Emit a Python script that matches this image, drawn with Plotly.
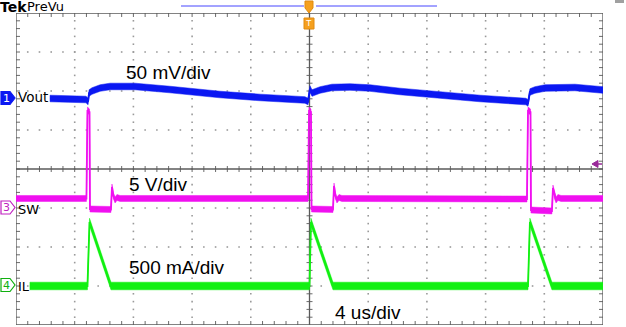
import plotly.graph_objects as go

# ---------------- screen geometry (page pixels) ----------------
W, H = 626, 327
GL, GR, GT, GB = 16, 603, 13, 325          # graticule edges
X_RANGE = (-20.0, 20.0)                     # us, 4 us/div x 10 div
Y_RANGE = (-4.0, 4.0)                       # divisions, 8 div

# ---------------- channel data ----------------
# Ch1  Vout  (50 mV/div, ground marker at +1.8 div)
VOUT_SCALE, VOUT_POS = 50.0, 1.8
vout_t = [-17.68, -15.23, -15.09, -15.02, -14.82, -14.27, -13.59, -11.89, -9.51,
          -6.10, -3.37, -0.31, -0.10, 0.03, 0.17, 0.72, 1.53, 2.76, 4.12, 6.17,
          8.89, 11.62, 14.75, 14.89, 15.02, 15.36, 16.04, 18.09, 20.0]
vout_mv = [0.4, -0.9, -3.5, 7.4, 10.0, 13.8, 15.8, 15.8, 11.9,
           5.5, 1.7, -1.5, -3.5, 12.6, 7.4, 11.3, 14.5, 15.1, 13.8, 9.4,
           4.9, 0.4, -3.5, -5.4, 8.7, 11.3, 13.8, 14.5, 11.3]

# Ch3  SW  (5 V/div, ground marker at -1 div)
SW_SCALE, SW_POS = 5.0, -1.0
sw_t = [-20.0, -15.20, -15.13, -14.99, -14.96, -13.53, -13.46, -13.36, -13.25, -13.12,
        -12.91, -0.10, -0.03, 0.10, 0.14, 1.60, 1.67, 1.77, 1.87, 2.01,
        2.21, 14.82, 14.89, 15.06, 15.09, 16.52, 16.59, 16.70, 16.80, 16.93,
        17.14, 20.0]
sw_v = [1.22, 1.22, 12.56, 12.31, -0.13, -0.19, 2.69, 1.54, 1.03, 1.35,
        1.22, 1.22, 12.56, 12.31, -0.13, -0.19, 2.82, 1.54, 1.03, 1.35,
        1.22, 1.15, 12.56, 12.31, -0.26, -0.38, 2.56, 1.54, 1.03, 1.35,
        1.22, 1.22]

# Ch4  IL  (500 mA/div, ground marker at -3 div)
IL_SCALE, IL_POS = 500.0, -3.0
il_t = [-19.05, -15.13, -14.99, -13.53, 0.0, 0.10, 1.60, 14.89, 15.02, 16.52, 20.0]
il_ma = [0, 0, 820, 0, 0, 820, 0, 0, 820, 0, 0]

BLUE, MAGENTA, GREEN = "#0b18f2", "#f010f0", "#12f012"
GRID, DOT = "#6a6a6a", "#9a9a9a"
FONT = "Liberation Sans, Arial, sans-serif"
SCOPE_FONT = "DejaVu Sans, sans-serif"


def to_div(vals, scale, pos):
    return [pos + v / scale for v in vals]


def band_trace(t, y, half, color):
    """Noise envelope of a trace as a filled polygon (half-height in div)."""
    xs = list(t) + list(reversed(t)) + [t[0]]
    ys = [v + half for v in y] + [v - half for v in reversed(y)] + [y[0] + half]
    return go.Scatter(x=xs, y=ys, mode="lines", fill="toself", fillcolor=color,
                      line=dict(color=color, width=0.5), hoverinfo="skip",
                      showlegend=False)


def line_trace(t, y, color, width=1.8):
    return go.Scatter(x=t, y=y, mode="lines", line=dict(color=color, width=width),
                      hoverinfo="skip", showlegend=False)


fig = go.Figure()

# ---------------- graticule ----------------
px_x = (X_RANGE[1] - X_RANGE[0]) / (GR - GL)      # us per pixel
px_y = (Y_RANGE[1] - Y_RANGE[0]) / (GB - GT)      # div per pixel
minor_x = [X_RANGE[0] + 0.8 * k for k in range(1, 50)]
minor_y = [Y_RANGE[0] + 0.2 * k for k in range(1, 40)]

dot_x, dot_y = [], []
for gy in (-3, -2, -1, 1, 2, 3):
    dot_x += minor_x
    dot_y += [gy] * len(minor_x)
for gx in (-16, -12, -8, -4, 4, 8, 12, 16):
    dot_x += [gx] * len(minor_y)
    dot_y += minor_y
fig.add_trace(go.Scatter(x=dot_x, y=dot_y, mode="markers",
                         marker=dict(symbol="square", size=1.6, color=DOT, line=dict(width=0)),
                         hoverinfo="skip", showlegend=False))

tick_x, tick_y = [], []
tl_y, tl_x = 4 * px_y, 4 * px_x
for x in minor_x:
    tick_x += [x, x, None, x, x, None, x, x, None]
    tick_y += [Y_RANGE[1], Y_RANGE[1] - tl_y, None,
               Y_RANGE[0], Y_RANGE[0] + tl_y, None,
               -3 * px_y, 3 * px_y, None]
for y in minor_y:
    tick_y += [y, y, None, y, y, None, y, y, None]
    tick_x += [X_RANGE[0], X_RANGE[0] + tl_x, None,
               X_RANGE[1], X_RANGE[1] - tl_x, None,
               -3 * px_x, 3 * px_x, None]
fig.add_trace(go.Scatter(x=tick_x, y=tick_y, mode="lines",
                         line=dict(color=GRID, width=1), hoverinfo="skip", showlegend=False))

# border and centre cross
fig.add_trace(go.Scatter(
    x=[X_RANGE[0], X_RANGE[1], X_RANGE[1], X_RANGE[0], X_RANGE[0], None, X_RANGE[0], X_RANGE[1], None, 0, 0],
    y=[Y_RANGE[0], Y_RANGE[0], Y_RANGE[1], Y_RANGE[1], Y_RANGE[0], None, 0, 0, None, Y_RANGE[0], Y_RANGE[1]],
    mode="lines", line=dict(color="#5a5a5a", width=1.3), hoverinfo="skip", showlegend=False))

# ---------------- waveforms ----------------
vout_y = to_div(vout_mv, VOUT_SCALE, VOUT_POS)
sw_y = to_div(sw_v, SW_SCALE, SW_POS)
il_y = to_div(il_ma, IL_SCALE, IL_POS)

fig.add_trace(band_trace(vout_t, vout_y, 3.3 * px_y, BLUE))
fig.add_trace(line_trace(vout_t, vout_y, BLUE))
fig.add_trace(band_trace(sw_t, sw_y, 3.0 * px_y, MAGENTA))
fig.add_trace(line_trace(sw_t, sw_y, MAGENTA))
fig.add_trace(band_trace(il_t, il_y, 3.8 * px_y, GREEN))
fig.add_trace(line_trace(il_t, il_y, GREEN))


# ---------------- screen furniture ----------------
def PX(x):
    return (x - GL) / (GR - GL)


def PY(y):
    return (GB - y) / (GB - GT)


def path(points):
    return "M " + " L ".join(f"{PX(a):.5f},{PY(b):.5f}" for a, b in points) + " Z"


shapes = []
annotations = []


def channel_marker(yc, label, color, filled):
    pts = [(1, yc - 6.5), (10, yc - 6.5), (15, yc), (10, yc + 6.5), (1, yc + 6.5)]
    shapes.append(dict(type="path", xref="paper", yref="paper", path=path(pts),
                       fillcolor=color if filled else "white",
                       line=dict(color=color, width=1.2)))
    annotations.append(dict(text=label, x=PX(6.5), y=PY(yc), xref="paper", yref="paper",
                            showarrow=False, xanchor="center", yanchor="middle",
                            font=dict(family=SCOPE_FONT, size=11,
                                      color="white" if filled else color)))


channel_marker(98, "1", BLUE, True)
channel_marker(207.5, "3", "#c020c0", False)
channel_marker(285, "4", "#10b010", False)

# trigger level arrow (right edge)
shapes.append(dict(type="path", xref="paper", yref="paper",
                   path=path([(592, 164), (598, 160.5), (598, 167.5)]),
                   fillcolor="#9a2a9a", line=dict(color="#9a2a9a", width=1)))
shapes.append(dict(type="line", xref="paper", yref="paper",
                   x0=PX(597), x1=PX(602), y0=PY(164), y1=PY(164),
                   line=dict(color="#9a2a9a", width=1.5)))

# record view bar and trigger position marker (top)
for a, b in ((181, 304), (316, 437)):
    shapes.append(dict(type="line", xref="paper", yref="paper",
                       x0=PX(a), x1=PX(b), y0=PY(6), y1=PY(6),
                       line=dict(color="#4646ff", width=1)))
shapes.append(dict(type="path", xref="paper", yref="paper",
                   path=path([(305, 1), (313, 1), (313, 8), (309, 13), (305, 8)]),
                   fillcolor="#f5a01e", line=dict(color="#e08a10", width=1)))
shapes.append(dict(type="rect", xref="paper", yref="paper",
                   x0=PX(304), x1=PX(314), y0=PY(18), y1=PY(29),
                   fillcolor="#f5a01e", line=dict(color="#e08a10", width=1)))
annotations.append(dict(text="T", x=PX(309), y=PY(23.5), xref="paper", yref="paper",
                        showarrow=False, xanchor="center", yanchor="middle",
                        font=dict(family=FONT, size=9, color="white")))
shapes.append(dict(type="rect", xref="paper", yref="paper",
                   x0=PX(615), x1=PX(624), y0=PY(0), y1=PY(3),
                   fillcolor="#a0a0a0", line=dict(width=0)))


def label(text, x, y, size, family=FONT, color="black"):
    annotations.append(dict(text=text, x=PX(x), y=PY(y), xref="paper", yref="paper",
                            showarrow=False, xanchor="left", yanchor="middle",
                            borderpad=0, font=dict(family=family, size=size, color=color)))


label("<b>Tek</b>", -1, 7, 14, SCOPE_FONT)
label("PreVu", 26, 6.5, 13, SCOPE_FONT)
label("Vout", 17, 97, 13.5, SCOPE_FONT)
label("SW", 17, 209.5, 13, SCOPE_FONT)
label("IL", 17, 286, 13, SCOPE_FONT)
label("50 mV/div", 125, 72, 19)
label("5 V/div", 128, 184, 19)
label("500 mA/div", 128, 267, 19)
label("4 us/div", 334, 312, 19)

fig.update_layout(
    width=W, height=H,
    margin=dict(l=GL, r=W - GR, t=GT, b=H - GB, pad=0),
    paper_bgcolor="white", plot_bgcolor="white",
    xaxis=dict(range=list(X_RANGE), visible=False, fixedrange=True),
    yaxis=dict(range=list(Y_RANGE), visible=False, fixedrange=True),
    shapes=shapes, annotations=annotations, showlegend=False,
)

fig.write_html("out.html")
